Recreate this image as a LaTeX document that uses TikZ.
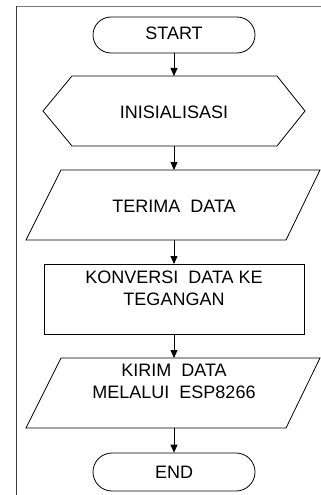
\documentclass[tikz,border=0pt]{standalone}
\usepackage{fontspec}
\setmainfont{Liberation Sans}
\usetikzlibrary{shapes.misc,arrows.meta,calc}
\begin{document}
\begin{tikzpicture}[x=1pt,y=-1pt,
  outline/.style={draw=black,line width=0.8pt},
  term/.style={rounded rectangle,outline,minimum width=162pt,inner sep=0pt},
  holder/.style={rectangle,inner sep=0pt,outer sep=0pt,minimum height=70pt},
  lbl/.style={font=\fontsize{18}{21.5}\selectfont,anchor=base,inner sep=0pt,align=center},
  flow/.style={-{Triangle[length=8pt,width=7pt]},line width=0.8pt},
  frameline/.style={line width=1pt}]
\useasboundingbox (0,0) rectangle (321,495);
% frame
\coordinate (fc) at (16,6.5);
\coordinate (fr) at (321,6.5);
\coordinate (fb) at (16,495);
\draw[frameline,draw={rgb,255:red,120;green,120;blue,120}] (fc) -- (fr);
\draw[frameline,draw={rgb,255:red,60;green,60;blue,60}] (fc) -- (fb);
% START
\node[term,minimum height=36pt] (start) at (174,35) {};
\node[lbl] (startT) at (174,40) {START};
% INISIALISASI
\node[holder,minimum width=262pt] (init) at (174,111) {};
\draw[outline] (init.west) -- ($(init.north west)+(29,0)$) -- ($(init.north east)+(-28,0)$)
  -- (init.east) -- ($(init.south east)+(-28,0)$) -- ($(init.south west)+(29,0)$) -- cycle;
\node[lbl] (initT) at (174,118) {INISIALISASI};
% TERIMA DATA
\node[holder,minimum width=294pt] (terima) at (173,205) {};
\draw[outline] ($(terima.north west)+(35,0)$) -- (terima.north east)
  -- ($(terima.south east)+(-34,0)$) -- (terima.south west) -- cycle;
\node[lbl] (terimaT) at (174,212) {TERIMA\ \ DATA};
% KONVERSI
\node[holder,outline,minimum width=260pt] (konv) at (174,299) {};
\node[lbl] (konvT) at (174,305) {KONVERSI\ \ DATA KE\\TEGANGAN};
% KIRIM
\node[holder,minimum width=294pt] (kirim) at (173,393) {};
\draw[outline] ($(kirim.north west)+(35,0)$) -- (kirim.north east)
  -- ($(kirim.south east)+(-34,0)$) -- (kirim.south west) -- cycle;
\node[lbl] (kirimT) at (174,398) {KIRIM\ \ DATA\\MELALUI\ \ ESP8266};
% END
\node[term,minimum height=38pt] (end) at (174,472) {};
\node[lbl] (endT) at (174,478) {END};
% connectors
\draw[flow] (start.south) -- (init.north);
\draw[flow] (init.south) -- (init.south |- terima.north);
\draw[flow] (init.south |- terima.south) -- (konv.north);
\draw[flow] (konv.south) -- (konv.south |- kirim.north);
\draw[flow] (konv.south |- kirim.south) -- (end.north);
\end{tikzpicture}
\end{document}
